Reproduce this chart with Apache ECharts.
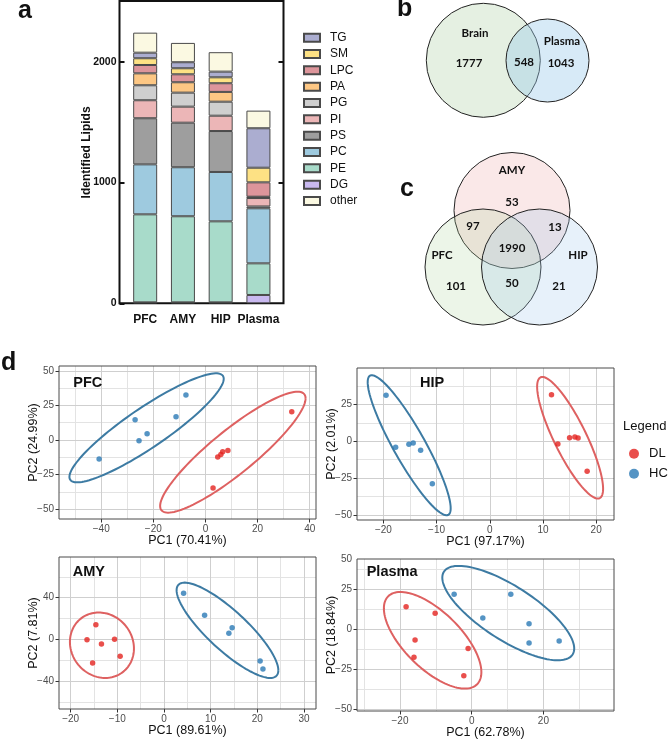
<!DOCTYPE html>
<html><head><meta charset="utf-8">
<script src="https://cdn.jsdelivr.net/npm/echarts@6/dist/echarts.min.js"></script>
<style>html,body{margin:0;padding:0;background:#fff}#c{width:668px;height:741px}</style>
</head><body><div id="c"></div>
<script>
// ---------- Panel a: stacked bars ----------
const categories = ['PFC', 'AMY', 'HIP', 'Plasma'];
const stackOrder = ['DG', 'PE', 'PC', 'PS', 'PI', 'PG', 'PA', 'LPC', 'SM', 'TG', 'other'];
const legendOrder = ['TG', 'SM', 'LPC', 'PA', 'PG', 'PI', 'PS', 'PC', 'PE', 'DG', 'other'];
const DG = [8, 8, 8, 69];
const PE = [729, 713, 671, 262];
const PC = [414, 406, 409, 456];
const PS = [382, 369, 339, 15];
const PI = [149, 133, 127, 70];
const PG = [124, 116, 116, 5];
const PA = [99, 86, 81, 6];
const LPC = [69, 66, 72, 119];
const SM = [56, 50, 49, 121];
const TG = [46, 50, 47, 327];
const other = [166, 160, 161, 146];
const barYTicks = [0, 1000, 2000];

// ---------- Panels b, c: Venn counts ----------
const vennBSets = ['Brain', 'Plasma'];
const vennBCounts = [1777, 548, 1043]; // Brain only, both, Plasma only
const vennCSets = ['AMY', 'PFC', 'HIP'];
const vennCCounts = [53, 97, 13, 1990, 101, 50, 21]; // AMY, AMY∩PFC, AMY∩HIP, all, PFC, PFC∩HIP, HIP

// ---------- Panel d: PCA scores ----------
const pfcDL = [[2.9, -34.7], [4.7, -12.3], [5.9, -10.4], [6.6, -8.4], [8.6, -7.5], [33.1, 20.5]];
const pfcHC = [[-40.8, -13.7], [-27.0, 14.7], [-25.5, -0.5], [-22.4, 4.6], [-11.3, 16.8], [-7.5, 32.5]];
const hipDL = [[11.6, 31.7], [12.8, -1.8], [15.0, 2.4], [16.0, 2.9], [16.6, 2.2], [18.3, -20.4]];
const hipHC = [[-19.5, 31.2], [-17.7, -4.1], [-15.2, -2.0], [-14.4, -1.2], [-13.0, -6.1], [-10.8, -28.8]];
const amyDL = [[-14.6, 14.2], [-16.5, -0.2], [-13.4, -4.3], [-10.6, 0.2], [-9.4, -16.1], [-15.3, -22.5]];
const amyHC = [[4.2, 44.2], [8.7, 23.2], [13.9, 5.9], [14.6, 11.3], [20.6, -20.6], [21.2, -28.2]];
const plasmaDL = [[-18.3, 14.1], [-10.2, 10.0], [-15.8, -6.7], [-16.1, -17.5], [-1.0, -12.1], [-2.2, -29.0]];
const plasmaHC = [[-4.9, 21.9], [3.1, 7.1], [10.9, 21.9], [16.0, 3.5], [16.0, -8.6], [24.4, -7.3]];
// confidence ellipses: [centerX, centerY, halfWidthX, halfHeightY, correlation]
const pfcDLEllipse = [10.5, -8.8, 27.9, 43.7, 0.89];
const pfcHCEllipse = [-22.6, 8.8, 29.6, 39.4, 0.9];
const hipDLEllipse = [15.1, 2.4, 6.2, 41.3, -0.84];
const hipHCEllipse = [-15.15, -2.7, 7.8, 47.6, -0.9];
const amyDLEllipse = [-13.3, -5.5, 6.86, 31.3, -0.1];
const amyHCEllipse = [13.6, 8.8, 10.9, 45.6, -0.84];
const plasmaDLEllipse = [-10.9, -6.9, 13.6, 30.2, -0.66];
const plasmaHCEllipse = [10.2, 10.1, 18.4, 29.5, -0.75];
// axis ranges and ticks
const pfcXRange = [-56.2, 42.4], pfcYRange = [-57.1, 53.5];
const hipXRange = [-24.96, 23.35], hipYRange = [-53.5, 49.8];
const amyXRange = [-22.5, 32.57], amyYRange = [-66.5, 78.9];
const plasmaXRange = [-32.0, 39.7], plasmaYRange = [-51.1, 43.9];
const pfcXMajor = [-40, -20, 0, 20, 40], pfcXMinor = [-50, -30, -10, 10, 30];
const pfcYMajor = [-50, -25, 0, 25, 50], pfcYMinor = [-37.5, -12.5, 12.5, 37.5];
const hipXMajor = [-20, -10, 0, 10, 20], hipXMinor = [-15, -5, 5, 15];
const hipYMajor = [-50, -25, 0, 25], hipYMinor = [-37.5, -12.5, 12.5, 37.5];
const amyXMajor = [-20, -10, 0, 10, 20, 30], amyXMinor = [-15, -5, 5, 15, 25];
const amyYMajor = [-40, 0, 40], amyYMinor = [-60, -20, 20, 60];
const plasmaXMajor = [-20, 0, 20], plasmaXMinor = [-30, -10, 10, 30];
const plasmaYMajor = [-50, -25, 0, 25], plasmaYMinor = [-37.5, -12.5, 12.5, 37.5];
const plasmaYTopLabel = '50';

// ---------- styles ----------
const classColors = {
  TG: '#abadd0', SM: '#fde184', LPC: '#dd959b', PA: '#fdc784', PG: '#cfcfcf',
  PI: '#ecb6b7', PS: '#9e9e9e', PC: '#9ecadf', PE: '#a8dbca', DG: '#c9b9f0', other: '#fbf9e2'
};
const classValues = { DG, PE, PC, PS, PI, PG, PA, LPC, SM, TG, other };
const RED = '#e4231f', BLUE = '#2a79b5', RED_E = '#de6161', BLUE_E = '#3d7ba3';
const FONT = 'Liberation Sans';
const fmt = v => (v < 0 ? '\u2212' + Math.abs(v) : String(v));

const chart = echarts.init(document.getElementById('c'), null, { renderer: 'canvas' });

const grids = [
  { left: 126.3, top: 1.5, width: 151, height: 301.8 },                 // 0 bars
  { left: 119.5, top: 1, width: 164, height: 302.3, show: true, borderColor: '#111', borderWidth: 2, backgroundColor: 'transparent' }, // 1 frame
  { left: 59, top: 366, width: 257, height: 153 },   // 2 PFC
  { left: 357, top: 368, width: 257, height: 152 },  // 3 HIP
  { left: 59, top: 557, width: 257, height: 152 },   // 4 AMY
  { left: 357, top: 559, width: 257, height: 152 }   // 5 Plasma
];
grids.slice(2).forEach(g => { g.show = true; g.borderColor = '#4a4a4a'; g.borderWidth = 1; g.backgroundColor = 'transparent'; g.z = 5; });

const xAxes = [
  { type: 'category', gridIndex: 0, data: categories, axisLine: { show: false }, axisTick: { show: false },
    axisLabel: { interval: 0, fontWeight: 'bold', fontSize: 12, color: '#111', margin: 10, fontFamily: FONT } },
  { type: 'value', gridIndex: 1, show: false }
];
const yAxes = [
  { type: 'value', gridIndex: 0, min: 0, max: 2500, position: 'left', offset: 6.8,
    axisLine: { show: false, onZero: false },
    axisTick: { show: true, inside: true, length: 5, lineStyle: { color: '#111', width: 2 }, customValues: barYTicks },
    axisLabel: { customValues: barYTicks, formatter: v => String(v), fontWeight: 'bold', fontSize: 10.5, color: '#111', margin: 3, fontFamily: FONT },
    splitLine: { show: false },
    name: 'Identified Lipids', nameLocation: 'middle', nameGap: 27, nameMoveOverlap: false,
    nameTextStyle: { fontWeight: 'bold', fontSize: 12, color: '#111', fontFamily: FONT } },
  { type: 'value', gridIndex: 0, min: 0, max: 2500, position: 'right', offset: 6.2,
    axisLine: { show: false, onZero: false },
    axisTick: { show: true, inside: true, length: 5, lineStyle: { color: '#111', width: 2 }, customValues: [1000, 2000] },
    axisLabel: { show: false }, splitLine: { show: false } },
  { type: 'value', gridIndex: 1, show: false }
];

const series = [];

function addPca(gridIndex, xr, yr, xMaj, xMin, yMaj, yMin, xName, yName, yLabels, yLabelFmt) {
  const xi = xAxes.length, yi = yAxes.length;
  xAxes.push({
    type: 'value', gridIndex, min: xr[0], max: xr[1], position: 'bottom',
    axisLine: { show: false, onZero: false },
    axisTick: { show: true, length: 3.5, lineStyle: { color: '#333' }, customValues: xMaj },
    axisLabel: { customValues: xMaj, formatter: fmt, color: '#4d4d4d', fontSize: 10, margin: 5, fontFamily: FONT },
    splitLine: { show: false },
    name: xName, nameLocation: 'middle', nameGap: 15.5, nameMoveOverlap: false,
    nameTextStyle: { fontSize: 12.5, color: '#111', fontFamily: FONT }
  });
  yAxes.push({
    type: 'value', gridIndex, min: yr[0], max: yr[1], position: 'left',
    axisLine: { show: false, onZero: false },
    axisTick: { show: true, length: 3.5, lineStyle: { color: '#333' }, customValues: yMaj },
    axisLabel: { customValues: yLabels || yMaj, formatter: yLabelFmt || fmt, color: '#4d4d4d', fontSize: 10, margin: 5, fontFamily: FONT },
    splitLine: { show: false },
    name: yName, nameLocation: 'middle', nameGap: 19, nameMoveOverlap: false,
    nameTextStyle: { fontSize: 12.5, color: '#111', fontFamily: FONT }
  });
  // panel grid lines (major + minor) drawn through the panel's own scales
  const major = { color: '#cfcfcf', width: 1, type: 'solid' };
  const minor = { color: '#e3e3e3', width: 1, type: 'solid' };
  const lines = []
    .concat(xMin.map(v => ({ xAxis: v, lineStyle: minor })))
    .concat(yMin.map(v => ({ yAxis: v, lineStyle: minor })))
    .concat(xMaj.filter(v => v > xr[0] && v < xr[1]).map(v => ({ xAxis: v, lineStyle: major })))
    .concat(yMaj.filter(v => v > yr[0] && v < yr[1]).map(v => ({ yAxis: v, lineStyle: major })));
  series.push({
    type: 'line', xAxisIndex: xi, yAxisIndex: yi, data: [], silent: true, z: 1,
    markLine: { silent: true, z: 1, symbol: ['none', 'none'], label: { show: false }, animation: false,
      emphasis: { disabled: true }, data: lines }
  });
  return [xi, yi];
}

const pfcAx = addPca(2, pfcXRange, pfcYRange, pfcXMajor, pfcXMinor, pfcYMajor, pfcYMinor, 'PC1 (70.41%)', 'PC2 (24.99%)');
const hipAx = addPca(3, hipXRange, hipYRange, hipXMajor, hipXMinor, hipYMajor, hipYMinor, 'PC1 (97.17%)', 'PC2 (2.01%)');
const amyAx = addPca(4, amyXRange, amyYRange, amyXMajor, amyXMinor, amyYMajor, amyYMinor, 'PC1 (89.61%)', 'PC2 (7.81%)');
const plasmaAx = addPca(5, plasmaXRange, plasmaYRange, plasmaXMajor, plasmaXMinor, plasmaYMajor, plasmaYMinor, 'PC1 (62.78%)', 'PC2 (18.84%)',
  plasmaYMajor.concat([plasmaYRange[1]]), v => (v === plasmaYRange[1] ? plasmaYTopLabel : fmt(v)));

stackOrder.forEach(cls => {
  series.push({
    name: cls, type: 'bar', stack: 'lipids', xAxisIndex: 0, yAxisIndex: 0, barWidth: 24,
    data: classValues[cls],
    itemStyle: { color: classColors[cls], borderColor: '#4a4a4a', borderWidth: 1 },
    emphasis: { disabled: true }
  });
});

function ellipseSeries(ax, params, color) {
  return {
    type: 'custom', xAxisIndex: ax[0], yAxisIndex: ax[1], data: [params], silent: true, z: 3,
    renderItem: (p, api) => {
      const cx = api.value(0), cy = api.value(1), w = api.value(2), h = api.value(3), r = api.value(4);
      const s = Math.sqrt(1 - r * r);
      const pts = [];
      for (let i = 0; i <= 120; i++) {
        const t = i / 120 * Math.PI * 2;
        pts.push(api.coord([cx + w * Math.cos(t), cy + h * (r * Math.cos(t) + s * Math.sin(t))]));
      }
      return { type: 'polyline', shape: { points: pts }, style: { stroke: color, lineWidth: 2, fill: null } };
    }
  };
}
function pointSeries(ax, name, data, color) {
  return { name, type: 'scatter', xAxisIndex: ax[0], yAxisIndex: ax[1], data, symbolSize: 5.5,
    itemStyle: { color }, z: 4, emphasis: { disabled: true } };
}
[[pfcAx, pfcDL, pfcHC, pfcDLEllipse, pfcHCEllipse],
 [hipAx, hipDL, hipHC, hipDLEllipse, hipHCEllipse],
 [amyAx, amyDL, amyHC, amyDLEllipse, amyHCEllipse],
 [plasmaAx, plasmaDL, plasmaHC, plasmaDLEllipse, plasmaHCEllipse]].forEach(([ax, dl, hc, edl, ehc]) => {
  series.push(ellipseSeries(ax, edl, RED_E));
  series.push(ellipseSeries(ax, ehc, BLUE_E));
  series.push(pointSeries(ax, 'DL', dl, RED));
  series.push(pointSeries(ax, 'HC', hc, BLUE));
});

// ---------- graphic: panel letters, Venn diagrams, titles ----------
function txt(x, y, text, size, weight, align, family, color) {
  return { type: 'text', x, y, silent: true, z: 10,
    style: { text, fontSize: size, fontWeight: weight || 'normal', fontFamily: family || FONT,
      fill: color || '#111', align: align || 'left', verticalAlign: 'middle' } };
}
const VF = 'Lato';
const graphic = [
  txt(18, 11.5, 'a', 25, 'bold'),
  txt(397, 9.5, 'b', 25, 'bold'),
  txt(400, 189.5, 'c', 25, 'bold'),
  txt(1, 363, 'd', 25, 'bold'),
  // Venn b
  { type: 'circle', shape: { cx: 483.3, cy: 60.3, r: 57 }, style: { fill: 'rgba(170,205,160,0.3)', stroke: '#222', lineWidth: 1 }, silent: true },
  { type: 'circle', shape: { cx: 547.5, cy: 60.5, r: 41.5 }, style: { fill: 'rgba(150,200,235,0.38)', stroke: '#222', lineWidth: 1 }, silent: true },
  txt(475, 33, vennBSets[0], 11.5, 'bold', 'center', VF),
  txt(562, 41, vennBSets[1], 11.5, 'bold', 'center', VF),
  txt(469, 63, String(vennBCounts[0]), 11.5, 'bold', 'center', VF),
  txt(524, 62, String(vennBCounts[1]), 11.5, 'bold', 'center', VF),
  txt(561, 63, String(vennBCounts[2]), 11.5, 'bold', 'center', VF),
  // Venn c
  { type: 'circle', shape: { cx: 512, cy: 210.5, r: 58 }, style: { fill: 'rgba(232,150,150,0.22)', stroke: '#222', lineWidth: 1 }, silent: true },
  { type: 'circle', shape: { cx: 483, cy: 267, r: 58 }, style: { fill: 'rgba(170,210,150,0.22)', stroke: '#222', lineWidth: 1 }, silent: true },
  { type: 'circle', shape: { cx: 539.5, cy: 267, r: 58 }, style: { fill: 'rgba(160,200,235,0.25)', stroke: '#222', lineWidth: 1 }, silent: true },
  txt(512, 170, vennCSets[0], 11.5, 'bold', 'center', VF),
  txt(442, 255, vennCSets[1], 11.5, 'bold', 'center', VF),
  txt(578, 255, vennCSets[2], 11.5, 'bold', 'center', VF),
  txt(512, 202, String(vennCCounts[0]), 11.5, 'bold', 'center', VF),
  txt(473, 226, String(vennCCounts[1]), 11.5, 'bold', 'center', VF),
  txt(555, 227, String(vennCCounts[2]), 11.5, 'bold', 'center', VF),
  txt(512, 248, String(vennCCounts[3]), 11.5, 'bold', 'center', VF),
  txt(456, 286, String(vennCCounts[4]), 11.5, 'bold', 'center', VF),
  txt(512, 283, String(vennCCounts[5]), 11.5, 'bold', 'center', VF),
  txt(559, 286, String(vennCCounts[6]), 11.5, 'bold', 'center', VF),
  // PCA panel titles
  txt(73.3, 383.3, 'PFC', 14.5, 'bold'),
  txt(420, 382.5, 'HIP', 14.5, 'bold'),
  txt(72.7, 571.7, 'AMY', 14.5, 'bold'),
  txt(366.7, 571.7, 'Plasma', 14.5, 'bold'),
  txt(623, 426, 'Legend', 13, 'normal')
];

chart.setOption({
  animation: false,
  textStyle: { fontFamily: FONT },
  grid: grids,
  xAxis: xAxes,
  yAxis: yAxes,
  legend: [
    { data: legendOrder, orient: 'vertical', left: 298, top: 25.7, icon: 'rect', itemWidth: 16, itemHeight: 8,
      itemGap: 2.33, selectedMode: false,
      textStyle: { fontSize: 12, color: '#111', lineHeight: 14, fontFamily: FONT, padding: [0, 0, 0, 5] } },
    { data: ['DL', 'HC'], orient: 'vertical', left: 624, top: 441.2, icon: 'circle', itemWidth: 20, itemHeight: 10,
      itemGap: 5, selectedMode: false,
      textStyle: { fontSize: 13, color: '#111', lineHeight: 15, fontFamily: FONT } }
  ],
  graphic,
  series
});
</script></body></html>
